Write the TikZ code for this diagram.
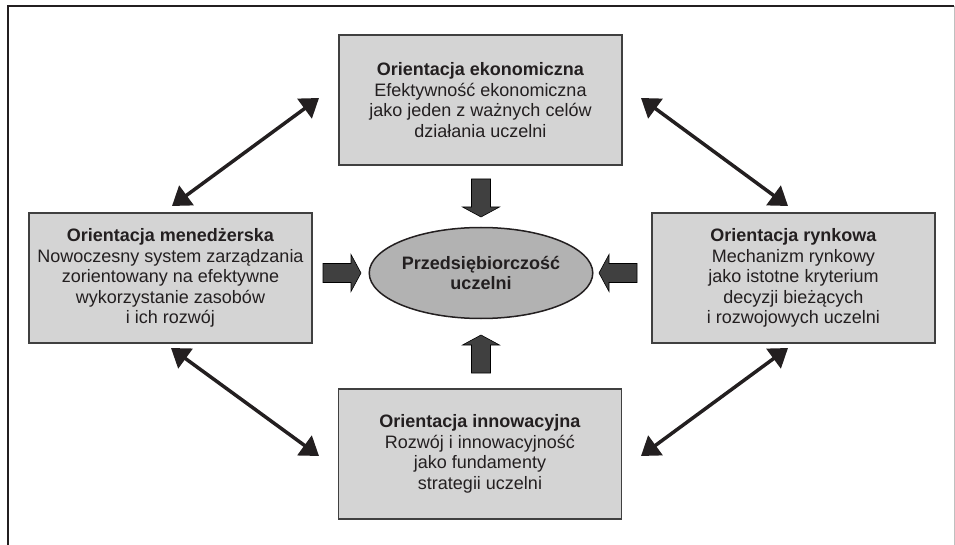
\documentclass[tikz,border=0pt]{standalone}
\usepackage{fontspec}
\setmainfont{Liberation Sans}
\usetikzlibrary{arrows.meta,shapes.geometric}
\definecolor{boxgray}{RGB}{212,212,212}
\definecolor{ovalgray}{RGB}{178,178,178}
\definecolor{edgegray}{RGB}{64,64,64}
\definecolor{pushgray}{RGB}{64,64,64}
\definecolor{inkblack}{RGB}{35,31,32}
\tikzset{
  orient/.style={draw=edgegray, line width=1.3pt, fill=boxgray, minimum width=283pt,
    minimum height=130pt, inner sep=0pt, align=center, text=inkblack,
    font=\fontsize{18}{20.5}\selectfont},
  kernel/.style={ellipse, draw=inkblack, line width=1.5pt, fill=ovalgray,
    minimum width=211pt, minimum height=91pt, inner sep=0pt, align=center,
    text=inkblack, font=\fontsize{18}{20}\selectfont\bfseries},
  link/.style={line width=3.5pt, draw=inkblack,
    {Triangle[length=18pt,width=24pt]}-{Triangle[length=18pt,width=24pt]}},
  push/.style={fill=pushgray, draw=black, line width=0.6pt}
}
% block arrow with its tip at #1, turned by #2
\newcommand{\pusharrow}[2]{%
  \draw[push, shift={(#1)}, rotate=#2] (-38,-9.5) -- (-10,-9.5) -- (-10,-18.5)
    -- (0,0) -- (-10,18.5) -- (-10,9.5) -- (-38,9.5) -- cycle;}
\begin{document}
\begin{tikzpicture}[x=1pt, y=-1pt]
    \useasboundingbox (0,0) rectangle (955,545);
    % frame
    \draw[line width=2.2pt, draw=inkblack] (8,545) -- (8,6) -- (954,6);
    \draw[line width=1pt, draw=black!25] (954,6) -- (954,545);

    \node[orient] (eko) at (480.5,100) {\textbf{Orientacja ekonomiczna}\\Efektywność ekonomiczna\\jako jeden z ważnych celów\\działania uczelni};
    \node[orient] (men) at (170.5,278) {\textbf{Orientacja menedżerska}\\Nowoczesny system zarządzania\\zorientowany na efektywne\\wykorzystanie zasobów\\i ich rozwój};
    \node[orient] (ryn) at (793.5,278) {\textbf{Orientacja rynkowa}\\Mechanizm rynkowy\\jako istotne kryterium\\decyzji bieżących\\i rozwojowych uczelni};
    \node[orient] (inn) at (480,454) {\textbf{Orientacja innowacyjna}\\Rozwój i innowacyjność\\jako fundamenty\\strategii uczelni};
    \node[kernel] (core) at (481,273) {Przedsiębiorczość\\uczelni};

    % block arrows into the centre
    \pusharrow{481,217}{-90}
    \pusharrow{481,335}{90}
    \pusharrow{361,273}{0}
    \pusharrow{599,273}{180}

    % links between the orientations
    \coordinate (menA) at (172,206);
    \coordinate (ekoA) at (319,98);
    \coordinate (ekoB) at (641,98);
    \coordinate (rynA) at (788,206);
    \coordinate (menB) at (171,348);
    \coordinate (innA) at (319,456);
    \coordinate (rynB) at (788,348);
    \coordinate (innB) at (641,456);
    \draw[link] (menA) -- (ekoA);
    \draw[link] (ekoB) -- (rynA);
    \draw[link] (menB) -- (innA);
    \draw[link] (rynB) -- (innB);
\end{tikzpicture}
\end{document}
